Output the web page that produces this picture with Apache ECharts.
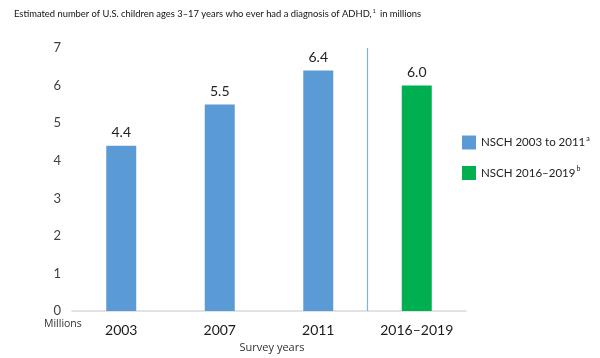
<!DOCTYPE html>
<html>
<head>
<meta charset="utf-8">
<script src="https://cdn.jsdelivr.net/npm/echarts@6/dist/echarts.min.js"></script>
<style>html,body{margin:0;padding:0;background:#fff}#c{width:600px;height:358px}</style>
</head>
<body>
<div id="c"></div>
<script>
var categories = ['2003', '2007', '2011', '2016\u20132019'];
var nsch2003to2011 = [4.4, 5.5, 6.4, null];
var nsch2016to2019 = [null, null, null, 6.0];
var seriesNames = ['NSCH 2003 to 2011', 'NSCH 2016\u20132019'];
var seriesSup = ['a', 'b'];
var yTicks = [0, 1, 2, 3, 4, 5, 6, 7];
var dividerAfter = 3; // divider between the 2011 and 2016–2019 surveys

var chart = echarts.init(document.getElementById('c'));
var labelFont = 'Lato, "Open Sans", sans-serif';
var dividerColor = '#7fb0e0';
function barLabel() {
  return {
    show: true, position: 'top', distance: 6,
    fontFamily: labelFont, fontSize: 14, color: '#222',
    formatter: function (p) { return p.value == null ? '' : Number(p.value).toFixed(1); }
  };
}
chart.setOption({
  animation: false,
  title: {
    text: 'Estimated number of U.S. children ages 3\u201317 years who ever had a diagnosis of ADHD,{sup|1} in millions',
    left: 9, top: 4,
    textStyle: {
      fontFamily: labelFont, fontSize: 9.4, fontWeight: 'normal', color: '#111',
      rich: { sup: { fontSize: 5, verticalAlign: 'top', padding: [0, 2, 5, 1], fontFamily: labelFont, color: '#111' } }
    }
  },
  legend: {
    orient: 'vertical', left: 457, top: 130, itemGap: 16,
    itemWidth: 14, itemHeight: 14, icon: 'rect',
    data: seriesNames,
    formatter: function (name) { return name + '{sup|' + seriesSup[seriesNames.indexOf(name)] + '}'; },
    textStyle: {
      fontFamily: labelFont, fontSize: 11.5, color: '#222',
      rich: { sup: { fontSize: 7, verticalAlign: 'top', padding: [0, 0, 8, 1], fontFamily: labelFont, color: '#222' } }
    }
  },
  grid: { left: 72, top: 48, width: 394, bottom: 45, containLabel: false },
  xAxis: [{
    type: 'category', data: categories,
    axisLine: { lineStyle: { color: '#d9d9d9', width: 1.5 } },
    axisTick: { show: false },
    axisLabel: { fontFamily: labelFont, fontSize: 14, color: '#1a1a1a', margin: 12 },
    splitLine: { show: false },
    name: 'Survey years', nameLocation: 'middle', nameGap: 29,
    nameTextStyle: { fontFamily: '"Open Sans", sans-serif', fontSize: 11, color: '#333', padding: [0, 0, 0, 6] }
  }, {
    type: 'value', min: 0, max: categories.length, show: false
  }],
  yAxis: {
    type: 'value', min: yTicks[0], max: yTicks[yTicks.length - 1], interval: 1,
    axisLine: { show: false }, axisTick: { show: false }, splitLine: { show: false },
    axisLabel: { fontFamily: labelFont, fontSize: 13, color: '#404040', margin: 11 }
  },
  graphic: [{
    type: 'text', left: 44, top: 319,
    style: { text: 'Millions', fontFamily: '"Open Sans", sans-serif', fontSize: 10.5, fill: '#333' }
  }],
  series: [
    { name: seriesNames[0], type: 'bar', stack: 's', barWidth: 30, data: nsch2003to2011,
      itemStyle: { color: '#5b9bd5' }, label: barLabel() },
    { name: seriesNames[1], type: 'bar', stack: 's', barWidth: 30, data: nsch2016to2019,
      itemStyle: { color: '#00b050' }, label: barLabel() },
    { type: 'line', xAxisIndex: 1, data: [], silent: true, color: dividerColor,
      lineStyle: { color: dividerColor }, itemStyle: { color: dividerColor },
      markLine: { symbol: 'none', silent: true, label: { show: false },
        lineStyle: { type: 'solid', color: dividerColor, width: 1.2, opacity: 1 },
        emphasis: { disabled: true },
        data: [{ xAxis: dividerAfter, lineStyle: { color: dividerColor, type: 'solid', width: 1.2 } }] } }
  ]
});
</script>
</body>
</html>
